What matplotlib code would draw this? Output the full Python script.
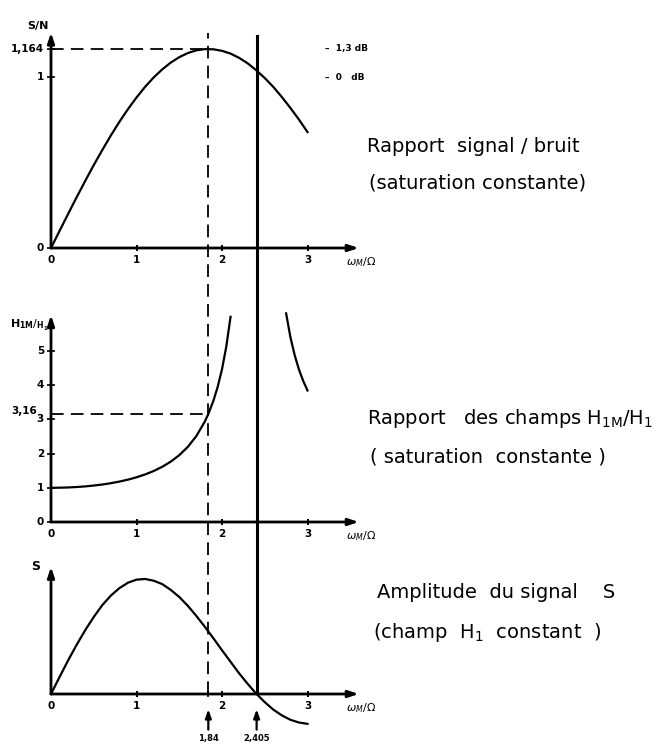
import matplotlib
matplotlib.use("Agg")
import matplotlib.pyplot as plt
from matplotlib import font_manager

# values
x = [0.0, 0.1, 0.2, 0.3, 0.4, 0.5, 0.6, 0.7, 0.8, 0.9, 1.0, 1.1, 1.2, 1.3, 1.4, 1.5,
     1.6, 1.7, 1.8, 1.9, 2.0, 2.1, 2.2, 2.3, 2.4, 2.5, 2.6, 2.7, 2.8, 2.9, 3.0]
snr = [0.0, 0.100, 0.199, 0.297, 0.392, 0.485, 0.573, 0.658, 0.738, 0.812, 0.880,
       0.942, 0.997, 1.044, 1.084, 1.116, 1.140, 1.156, 1.163, 1.162, 1.153, 1.137,
       1.112, 1.080, 1.040, 0.994, 0.942, 0.883, 0.819, 0.751, 0.678]
sig = [0.0, 0.050, 0.099, 0.145, 0.188, 0.227, 0.262, 0.290, 0.312, 0.328, 0.337,
       0.339, 0.334, 0.324, 0.307, 0.286, 0.260, 0.230, 0.198, 0.164, 0.129, 0.095,
       0.061, 0.030, 0.001, -0.024, -0.046, -0.063, -0.076, -0.084, -0.088]

# H1M/H1, two branches either side of 2.405
h_x_left = [0.0, 0.1, 0.2, 0.3, 0.4, 0.5, 0.6, 0.7, 0.8, 0.9, 1.0, 1.1, 1.2, 1.3, 1.4,
            1.5, 1.6, 1.7, 1.8, 1.84, 1.9, 1.95, 2.0, 2.05, 2.1]
h_left = [1.00, 1.003, 1.010, 1.023, 1.041, 1.066, 1.096, 1.135, 1.182, 1.238, 1.307,
          1.390, 1.490, 1.613, 1.764, 1.954, 2.196, 2.513, 2.941, 3.16, 3.549, 3.956,
          4.466, 5.126, 6.00]
h_x_right = [2.75, 2.8, 2.85, 2.9, 2.95, 3.0]
h_right = [6.10, 5.405, 4.878, 4.458, 4.124, 3.845]

x_opt = 1.84
x_zero = 2.405
snr_max = 1.164
h_opt = 3.16

# pick a narrow font if there is one
names = {f.name for f in font_manager.fontManager.ttflist}
big_font = "Liberation Sans Narrow" if "Liberation Sans Narrow" in names else "DejaVu Sans"

W, H = 667, 747
fig = plt.figure(figsize=(W / 100, H / 100), dpi=100)

px_per_x = 85.5
x0_px = 51
xlim = (-0.2, 3.7)
left = (x0_px + xlim[0] * px_per_x) / W
width = (xlim[1] - xlim[0]) * px_per_x / W


def make_ax(zero_px, px_per_y, ylim):
    bottom_px = zero_px - ylim[0] * px_per_y
    ax = fig.add_axes([left, (H - bottom_px) / H, width,
                       (ylim[1] - ylim[0]) * px_per_y / H])
    ax.set_xlim(*xlim)
    ax.set_ylim(*ylim)
    ax.axis("off")
    return ax


ax1 = make_ax(248, 171, (-0.06, 1.35))
ax2 = make_ax(522, 34.2, (-0.3, 6.6))
ax3 = make_ax(694, 339.3, (-0.11, 0.4))

lw_axis = 2.0
lw_curve = 1.6
tick_font = dict(fontsize=7.5, fontweight="bold", family="DejaVu Sans")


def axes_frame(ax, ytop, xend=3.6):
    ax.annotate("", xy=(xend, 0), xytext=(0, 0),
                arrowprops=dict(arrowstyle="-|>,head_length=0.6,head_width=0.2",
                                lw=lw_axis, color="black", shrinkA=0, shrinkB=0))
    ax.annotate("", xy=(0, ytop), xytext=(0, 0),
                arrowprops=dict(arrowstyle="-|>,head_length=0.6,head_width=0.2",
                                lw=lw_axis, color="black", shrinkA=0, shrinkB=0))
    ax.annotate(r"$\omega_M/\Omega$", (3.63, 0), xytext=(0, -5),
                textcoords="offset points", ha="center", va="top", fontsize=8)
    for v in [0, 1, 2, 3]:
        if v > 0:
            ax.plot([v, v], [0, 0], marker="|", ms=5, mew=1.2, color="black")
        ax.annotate(str(v), (v, 0), xytext=(0, -5), textcoords="offset points",
                    ha="center", va="top", **tick_font)


def yticks(ax, vals, labels):
    for v, lab in zip(vals, labels):
        ax.plot([0], [v], marker="_", ms=6, mew=1.2, color="black")
        if lab:
            ax.annotate(lab, (0, v), xytext=(-5, 0), textcoords="offset points",
                        ha="right", va="center", **tick_font)


# panel 1 : S/N
axes_frame(ax1, 1.26)
ax1.plot(x, snr, color="black", lw=lw_curve)
ax1.plot([0, x_opt], [snr_max, snr_max], color="black", lw=1.3, dashes=(7, 4))
yticks(ax1, [0, 1, snr_max], ["0", "1", "1,164"])
ax1.annotate("S/N", (0, 1.26), xytext=(-2, 5), textcoords="offset points",
             ha="right", va="center", fontsize=8, fontweight="bold")
ax1.text(3.2, snr_max, "–  1,3 dB", ha="left", va="center", fontsize=6.5,
         fontweight="bold")
ax1.text(3.2, 1.0, "–  0   dB", ha="left", va="center", fontsize=6.5,
         fontweight="bold")

# panel 2 : H1M/H1
axes_frame(ax2, 6.05)
ax2.plot(h_x_left, h_left, color="black", lw=lw_curve)
ax2.plot(h_x_right, h_right, color="black", lw=lw_curve)
ax2.plot([0, x_opt], [h_opt, h_opt], color="black", lw=1.3, dashes=(7, 4))
yticks(ax2, [0, 1, 2, 3, 4, 5], ["0", "1", "2", "3", "4", "5"])
ax2.annotate("3,16", (0, h_opt), xytext=(-10, 2), textcoords="offset points",
             ha="right", va="center", **tick_font)
ax2.annotate(r"$\mathbf{H_{1M}}/_{\mathbf{H_1}}$", (0, 6.05), xytext=(-2, -2),
             textcoords="offset points", ha="right", va="top", fontsize=8)

# panel 3 : S
axes_frame(ax3, 0.375)
ax3.plot(x, sig, color="black", lw=lw_curve)
ax3.annotate("S", (0, 0.375), xytext=(-11, 0), textcoords="offset points",
             ha="center", va="center", fontsize=9, fontweight="bold")
ax3.plot([x_opt], [0], marker="|", ms=5, mew=1.2, color="black")
for v, lab in [(x_opt, "1,84"), (x_zero, "2,405")]:
    ax3.annotate("", xy=(v, -0.045), xytext=(v, -0.105),
                 arrowprops=dict(arrowstyle="-|>,head_length=0.5,head_width=0.18",
                                 lw=1.6, color="black", shrinkA=0, shrinkB=0),
                 annotation_clip=False)
    ax3.annotate(lab, (v, -0.105), xytext=(0, -3), textcoords="offset points",
                 ha="center", va="top", fontsize=6, fontweight="bold",
                 annotation_clip=False)

# vertical lines through the three panels
top_px, bot_px = 33, 694
ax_v = fig.add_axes([left, (H - bot_px) / H, width, (bot_px - top_px) / H])
ax_v.set_xlim(*xlim)
ax_v.set_ylim(0, 1)
ax_v.axis("off")
ax_v.axvline(x_opt, 0, 1, color="black", lw=1.3, dashes=(7, 4))
ax_v.axvline(x_zero, 0, 0.995, color="black", lw=2.2)

# captions on the right
big = dict(fontsize=15 if big_font != "DejaVu Sans" else 14, family=big_font,
           ha="left", va="center")
captions = [
    (367, 147, "Rapport  signal / bruit"),
    (369, 183, "(saturation constante)"),
    (367, 418, r"Rapport   des champs H$_{\mathrm{1M}}$/H$_{\mathrm{1}}$"),
    (370, 457, "( saturation  constante )"),
    (377, 593, "Amplitude  du signal    S"),
    (373, 633, r"(champ  H$_{\mathrm{1}}$  constant  )"),
]
for px, py, s in captions:
    fig.text(px / W, 1 - py / H, s, **big)

fig.savefig("out.png", dpi=100)
